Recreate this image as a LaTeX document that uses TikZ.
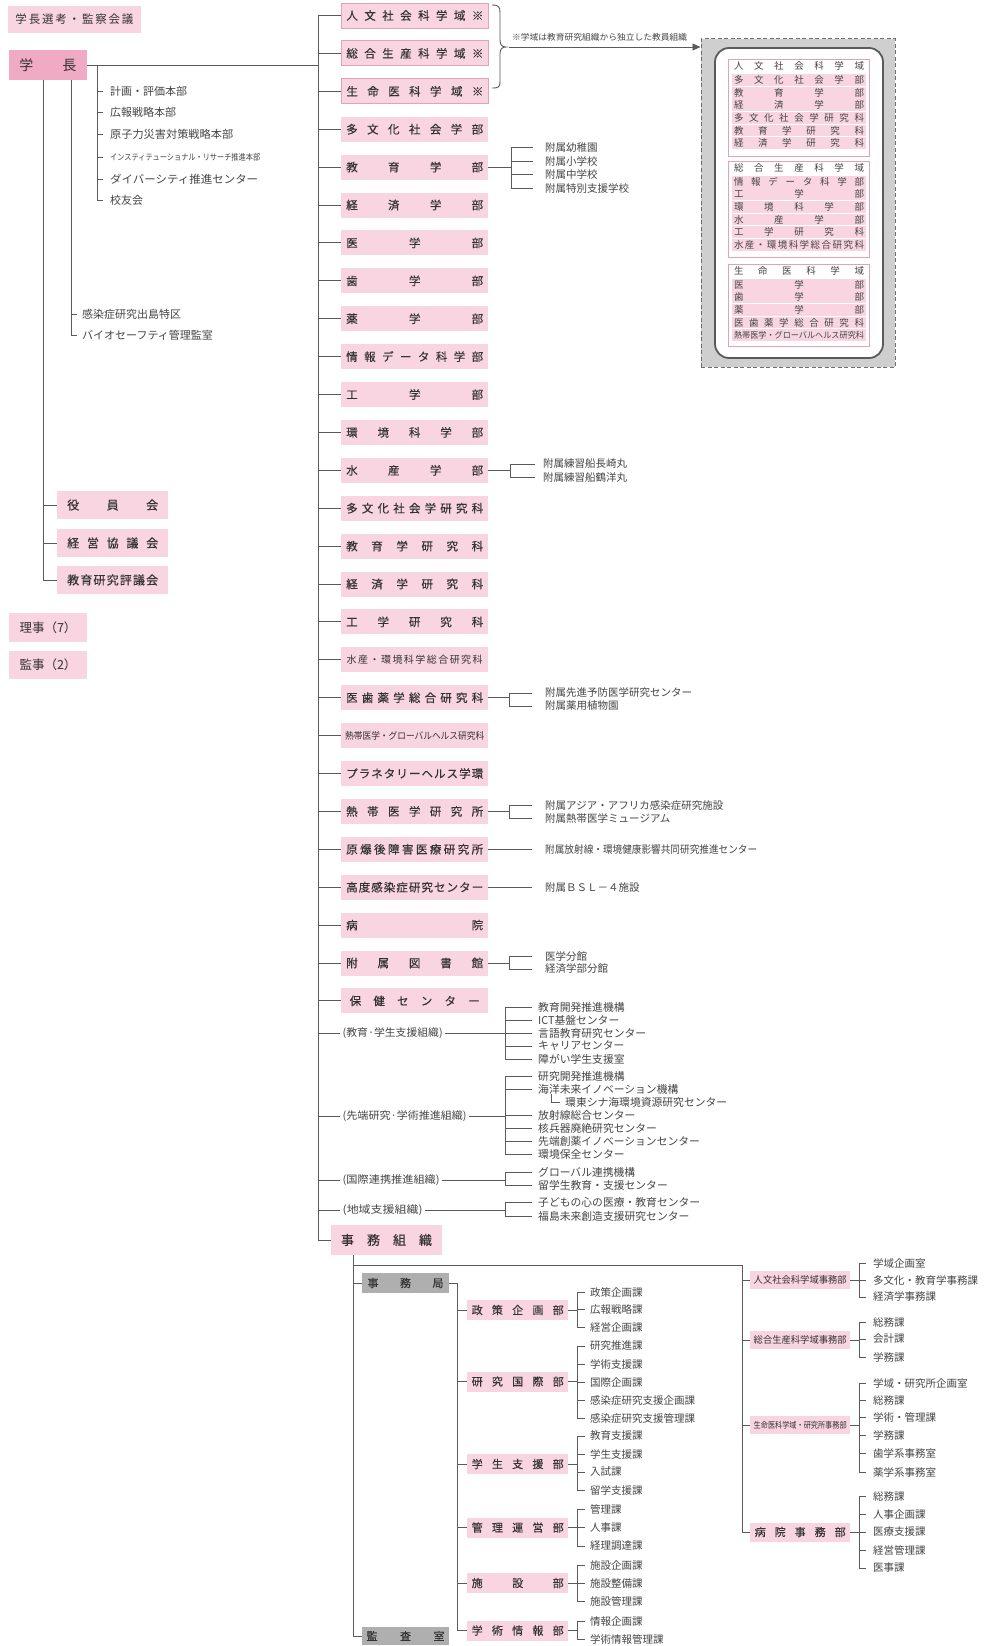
\documentclass[tikz,border=0pt]{standalone}
\usepackage{fontspec}
\usepackage{graphicx}
\setmainfont{Noto Sans CJK JP}
\newfontfamily\jb{Noto Sans CJK JP}[FakeBold=0.25]
\usetikzlibrary{arrows.meta}
\definecolor{pinkL}{HTML}{F8D5E0}
\definecolor{pinkD}{HTML}{F0AAC3}
\definecolor{pinkE}{HTML}{E6A0B8}
\definecolor{grayB}{HTML}{AFAFAF}
\definecolor{lineC}{HTML}{5A5A5A}
\definecolor{txtC}{HTML}{333333}
\definecolor{listC}{HTML}{454545}
\definecolor{dashF}{HTML}{CFCFCF}
\definecolor{dashE}{HTML}{6E6E6E}
\def\sprA#1{\ifx#1\relax\else#1\expandafter\sprB\fi}
\def\sprB#1{\ifx#1\relax\else\hfill#1\expandafter\sprB\fi}
\newcommand\spr[2]{\hbox to #1{\sprA#2\relax}}
\newcommand\sprT[1]{\spr{130pt}{#1}}
\newcommand\sqz[2]{\resizebox{#1}{\height}{#2}}
\newcommand\fs[1]{\fontsize{#1}{#1}\selectfont}
\tikzset{
  ln/.style={draw=lineC, line width=0.9pt},
  itemfont/.style={font=\fs{10.5}},
  item/.style={anchor=west, inner sep=0pt, text=listC, itemfont},
  lbox/.style={fill=pinkL, inner sep=0pt, text=txtC, font=\fs{11.5}},
  mainbox/.style={fill=pinkL, minimum width=147pt, minimum height=25pt, inner sep=0pt, anchor=west, font=\jb\fs{11.5}, text=txtC},
  dombox/.style={mainbox, draw=pinkE, line width=0.8pt},
  gbox/.style={fill=grayB, minimum width=87pt, minimum height=20pt, inner sep=0pt, font=\jb\fs{11}, text=txtC},
  dbox/.style={fill=pinkL, minimum width=101pt, minimum height=20pt, inner sep=0pt, anchor=west, font=\jb\fs{11}, text=txtC},
  rbox/.style={fill=pinkL, minimum width=100pt, minimum height=18pt, inner sep=0pt, anchor=west, font=\fs{9.5}, text=txtC},
  tbl/.style={draw=pinkE, line width=0.6pt, fill=white, minimum width=141pt, inner sep=0pt, anchor=north west},
  trow/.style={fill=pinkL, minimum width=134pt, minimum height=11.8pt, inner sep=0pt, font=\fs{9.5}, text=listC},
  thead/.style={inner sep=0pt, font=\fs{9.5}, text=listC},
  glabel/.style={item, inner xsep=2.5pt, font=\fs{10.5}}
}
\newcommand\itemsat[5]{%
  \coordinate (#1v) at (#2,0);
  \coordinate (#1s) at (#3,0);
  \foreach \yy/\tx [count=\k] in {#5}{%
    \node[item] (#1-\k) at (#4,\yy) {\tx};
    \draw[ln] (#1-\k.west -| #1v) -- (#1-\k.west -| #1s);
    \xdef\lastk{\k}}%
}
\newcommand\brk[6]{%
  \itemsat{#1}{#3}{#4}{#5}{#6}
  \draw[ln] (#1-1.west -| #1v) -- (#1-\lastk.west -| #1v);
  \draw[ln] (#2.east) -- (#2.east -| #1v);
}
\newcommand\mb[4][mainbox]{\node[#1] (#2) at (341,#3) {#4};}
\begin{document}
\begin{tikzpicture}[x=1pt,y=-1pt]
\useasboundingbox (0,0) rectangle (984,1646);
\fill[white] (0,0) rectangle (984,1646);

% ---------- left column ----------
\node[lbox, minimum width=133pt, minimum height=27pt] (senko) at (74.5,19.5) {\spr{118pt}{学長選考・監察会議}};
\node[lbox, fill=pinkD, minimum width=78pt, minimum height=29pt, font=\fs{14}] (pres) at (48,65) {\spr{57pt}{学長}};
\node[lbox, minimum width=78pt, minimum height=29pt, font=\fs{12.5}] (riji) at (48,627.5) {理事（7）};
\node[lbox, minimum width=78pt, minimum height=28pt, font=\fs{12.5}] (kanji) at (48,665) {監事（2）};

\begin{scope}[itemfont/.style={font=\fs{11}}]
\itemsat{ul}{97}{103}{110}{91/計画・評価本部, 112/広報戦略本部, 134.5/{\sqz{123pt}{原子力災害対策戦略本部}}, 157/{\fs{8.5}\sqz{150pt}{インスティテューショナル・リサーチ推進本部}}, 179/{\sqz{148pt}{ダイバーシティ推進センター}}, 200/校友会}
\draw[ln] (pres.east -| ulv) -- (ul-\lastk.west -| ulv);
\itemsat{ub}{71}{77}{82}{314.5/感染症研究出島特区, 335/バイオセーフティ管理監室}
\draw[ln] (pres.south -| ubv) -- (ub-\lastk.west -| ubv);
\end{scope}

\coordinate (lcv) at (43,0);
\node[lbox, anchor=west, minimum width=111pt, minimum height=28pt, font=\jb\fs{12}] (yak1) at (57,505) {\spr{91pt}{役員会}};
\node[lbox, anchor=west, minimum width=111pt, minimum height=28pt, font=\jb\fs{12}] (yak2) at (57,543) {\spr{91pt}{経営協議会}};
\node[lbox, anchor=west, minimum width=111pt, minimum height=28pt, font=\jb\fs{12}] (yak3) at (57,580) {\spr{91pt}{教育研究評議会}};
\draw[ln] (pres.south -| lcv) -- (yak3.west -| lcv);
\foreach \n in {yak1,yak2,yak3} \draw[ln] (\n.west -| lcv) -- (\n.west);

% ---------- main trunk boxes ----------
\coordinate (trk) at (318,15.5);
\mb[dombox]{m1}{15.5}{\spr{137pt}{人文社会科学域※}}
\mb[dombox]{m2}{53.4}{\spr{137pt}{総合生産科学域※}}
\mb[dombox]{m3}{91.3}{\spr{137pt}{生命医科学域※}}
\mb{m4}{129.2}{\spr{137pt}{多文化社会学部}}
\mb{m5}{167.1}{\spr{137pt}{教育学部}}
\mb{m6}{205.0}{\spr{137pt}{経済学部}}
\mb{m7}{242.9}{\spr{137pt}{医学部}}
\mb{m8}{280.8}{\spr{137pt}{歯学部}}
\mb{m9}{318.7}{\spr{137pt}{薬学部}}
\mb{m10}{356.6}{\spr{137pt}{情報データ科学部}}
\mb{m11}{394.5}{\spr{137pt}{工学部}}
\mb{m12}{432.4}{\spr{137pt}{環境科学部}}
\mb{m13}{470.3}{\spr{137pt}{水産学部}}
\mb{m14}{508.2}{\spr{137pt}{多文化社会学研究科}}
\mb{m15}{546.1}{\spr{137pt}{教育学研究科}}
\mb{m16}{584.0}{\spr{137pt}{経済学研究科}}
\mb{m17}{621.9}{\spr{137pt}{工学研究科}}
\mb{m18}{659.8}{\fontspec{Noto Sans CJK JP}\fs{10}\spr{136pt}{水産・環境科学総合研究科}}
\mb{m19}{697.7}{\spr{137pt}{医歯薬学総合研究科}}
\mb{m20}{735.6}{\fontspec{Noto Sans CJK JP}\fs{9.5}\sqz{139pt}{熱帯医学・グローバルヘルス研究科}}
\mb{m21}{773.5}{\spr{137pt}{プラネタリーヘルス学環}}
\mb{m22}{811.4}{\spr{137pt}{熱帯医学研究所}}
\mb{m23}{849.3}{\spr{137pt}{原爆後障害医療研究所}}
\mb{m24}{887.2}{\spr{137pt}{高度感染症研究センター}}
\mb{m25}{925.1}{\spr{137pt}{病院}}
\mb{m26}{963.0}{\spr{137pt}{附属図書館}}
\mb{m27}{1000.9}{\spr{130pt}{保健センター}}
\foreach \i in {1,...,27} \draw[ln] (m\i.west -| trk) -- (m\i.west);
\draw[ln] (pres.east) -- (pres.east -| trk);

% attached facilities
\brk{ga}{m5}{511}{533}{545}{147.5/附属幼稚園, 161/附属小学校, 174.5/附属中学校, 188/附属特別支援学校}
\brk{gb}{m13}{510}{535}{543}{464/附属練習船長崎丸, 477.5/附属練習船鶴洋丸}
\brk{gc}{m19}{509}{532}{545}{693/附属先進予防医学研究センター, 706/附属薬用植物園}
\brk{gd}{m22}{509}{532}{545}{805/附属アジア・アフリカ感染症研究施設, 818/附属熱帯医学ミュージアム}
\brk{ge}{m23}{509}{532}{545}{849.3/{\sqz{212pt}{附属放射線・環境健康影響共同研究推進センター}}}
\brk{gf}{m24}{509}{532}{545}{887.2/附属ＢＳＬ－４施設}
\brk{gg}{m26}{509}{532}{545}{956/医学分館, 969/経済学部分館}

% group labels
\node[glabel] (g1) at (340,1033) {\sqz{100pt}{(教育·学生支援組織)}};
\node[glabel] (g2) at (340,1116) {\sqz{124pt}{(先端研究·学術推進組織)}};
\node[glabel] (g3) at (340,1180) {\sqz{97pt}{(国際連携推進組織)}};
\node[glabel] (g4) at (340,1210) {\sqz{80pt}{(地域支援組織)}};
\foreach \n in {g1,g2,g3,g4} \draw[ln] (\n.west -| trk) -- (\n.west);
\begin{scope}[itemfont/.style={font=\fs{10.8}}]
\brk{e1}{g1}{505}{532}{538}{1007/教育開発推進機構, 1020/ICT基盤センター, 1033/言語教育研究センター, 1046/キャリアセンター, 1059/障がい学生支援室}
\brk{e2}{g2}{505}{532}{538}{1076/研究開発推進機構, 1089/海洋未来イノベーション機構, 1115/放射線総合センター, 1128/核兵器廃絶研究センター, 1141/先端創薬イノベーションセンター, 1154/環境保全センター}
\node[item] (kan) at (565,1102) {環東シナ海環境資源研究センター};
\draw[ln] ([xshift=13pt]e2-2.south west) |- ([xshift=-5pt]kan.west);
\brk{e3}{g3}{505}{532}{538}{1172/グローバル連携機構, 1185.5/留学生教育・支援センター}
\brk{e4}{g4}{505}{532}{538}{1202/子どもの心の医療・教育センター, 1216/福島未来創造支援研究センター}
\end{scope}

% ---------- administration ----------
\node[lbox, minimum width=111pt, minimum height=30pt, font=\jb\fs{13}] (jso) at (386.5,1240) {\spr{91pt}{事務組織}};
\draw[ln] (trk) -- (trk |- jso.west) -- (jso.west);
\coordinate (jv) at (353,0);
\coordinate (hz) at (353,1265);
\coordinate (rv) at (742,1265);
\node[gbox] (jmk) at (405.5,1283) {\spr{76pt}{事務局}};
\node[gbox, minimum height=18pt] (kansa) at (405.5,1636) {\spr{78pt}{監査室}};
\draw[ln] (jso.south -| jv) -- (jv |- kansa.west) -- (kansa.west);
\draw[ln] (jmk.west -| jv) -- (jmk.west);
\draw[ln] (hz) -- (rv);
\coordinate (dv) at (457,0);
\node[dbox] (d1) at (467,1310) {\spr{92pt}{政策企画部}};
\node[dbox] (d2) at (467,1381.5) {\spr{92pt}{研究国際部}};
\node[dbox] (d3) at (467,1464) {\spr{92pt}{学生支援部}};
\node[dbox] (d4) at (467,1527.5) {\spr{92pt}{管理運営部}};
\node[dbox] (d5) at (467,1583) {\spr{92pt}{施設部}};
\node[dbox] (d6) at (467,1630.5) {\spr{92pt}{学術情報部}};
\draw[ln] (jmk.east) -- (jmk.east -| dv) -- (dv |- d6.west);
\foreach \i in {1,...,6} \draw[ln] (d\i.west -| dv) -- (d\i.west);
\brk{s1}{d1}{577}{585}{590}{1292/政策企画課, 1309.5/広報戦略課, 1327/経営企画課}
\brk{s2}{d2}{577}{585}{590}{1346/研究推進課, 1364/学術支援課, 1382/国際企画課, 1400/感染症研究支援企画課, 1418/感染症研究支援管理課}
\brk{s3}{d3}{577}{585}{590}{1436/教育支援課, 1454/学生支援課, 1472/入試課, 1490/留学支援課}
\brk{s4}{d4}{577}{585}{590}{1509/管理課, 1527.5/人事課, 1546/経理調達課}
\brk{s5}{d5}{577}{585}{590}{1565/施設企画課, 1583/施設整備課, 1601/施設管理課}
\brk{s6}{d6}{577}{585}{590}{1621/情報企画課, 1639/学術情報管理課}

\node[rbox] (r1) at (750,1280) {\sqz{93pt}{人文社会科学域事務部}};
\node[rbox] (r2) at (750,1340) {\sqz{93pt}{総合生産科学域事務部}};
\node[rbox] (r3) at (750,1425) {\fs{8.5}\sqz{93pt}{生命医科学域・研究所事務部}};
\node[rbox, minimum height=19pt, font=\jb\fs{11}] (r4) at (750,1532) {\spr{91pt}{病院事務部}};
\draw[ln] (rv) -- (rv |- r4.west);
\foreach \i in {1,...,4} \draw[ln] (r\i.west -| rv) -- (r\i.west);
\brk{t1}{r1}{859}{866}{873}{1263/学域企画室, 1280/多文化・教育学事務課, 1297/経済学事務課}
\brk{t2}{r2}{859}{866}{873}{1322/総務課, 1339/会計課, 1357/学務課}
\brk{t3}{r3}{859}{866}{873}{1383/学域・研究所企画室, 1400/総務課, 1417/学術・管理課, 1435/学務課, 1453/歯学系事務室, 1472/薬学系事務室}
\brk{t4}{r4}{859}{866}{873}{1496/総務課, 1514/人事企画課, 1532/医療支援課, 1550/経営管理課, 1568/医事課}

% ---------- legend ----------
\node[draw=dashE, dash pattern=on 4pt off 2.5pt, line width=1pt, fill=dashF, minimum width=194pt, minimum height=328pt, inner sep=0pt] (leg) at (798,203) {};
\node[draw=lineC, line width=1.8pt, rounded corners=14pt, fill=white, minimum width=168pt, minimum height=310pt, inner sep=0pt] (legin) at (799,203) {};
\node[tbl, minimum height=97pt] (tb1) at (728,59) {};
\node[tbl, minimum height=96pt] (tb2) at (728,161) {};
\node[tbl, minimum height=82pt] (tb3) at (728,263.5) {};
\node[thead] (tb1h) at (799,65.5) {\sprT{人文社会科学域}};
\node[thead] (tb2h) at (799,167.5) {\sprT{総合生産科学域}};
\node[thead] (tb3h) at (799,270.5) {\sprT{生命医科学域}};
\foreach \yy/\tx [count=\k] in {80/多文化社会学部, 92.6/教育学部, 105.2/経済学部, 117.8/多文化社会学研究科, 130.4/教育学研究科, 143/経済学研究科}
  \node[trow] (tb1r\k) at (799,\yy) {\expandafter\sprT\expandafter{\tx}};
\foreach \yy/\tx [count=\k] in {181.7/情報データ科学部, 194.3/工学部, 206.9/環境科学部, 219.5/水産学部, 232.1/工学研究科, 244.7/水産・環境科学総合研究科}
  \node[trow] (tb2r\k) at (799,\yy) {\expandafter\sprT\expandafter{\tx}};
\foreach \yy/\tx [count=\k] in {284.6/医学部, 297.2/歯学部, 309.8/薬学部, 322.4/医歯薬学総合研究科}
  \node[trow] (tb3r\k) at (799,\yy) {\expandafter\sprT\expandafter{\tx}};
\node[trow] (tb3r5) at (799,335) {\fs{8.5}\sqz{130pt}{熱帯医学・グローバルヘルス研究科}};

% brace, note and arrow
\coordinate (btip) at (506,47);
\draw[ln] (492,5) .. controls (499,5) and (500,7) .. (500,13) -- (500,40) .. controls (500,45) and (502,47) .. (btip) .. controls (502,47) and (500,49) .. (500,54) -- (500,81) .. controls (500,87) and (499,88) .. (492,88);
\node[item, font=\fs{8.5}] (note) at (512,37) {\sqz{175pt}{※学域は教育研究組織から独立した教員組織}};
\draw[ln, -{Triangle[length=8pt,width=7pt]}] ([xshift=3pt]btip) -- (leg.west |- btip);
\end{tikzpicture}
\end{document}
